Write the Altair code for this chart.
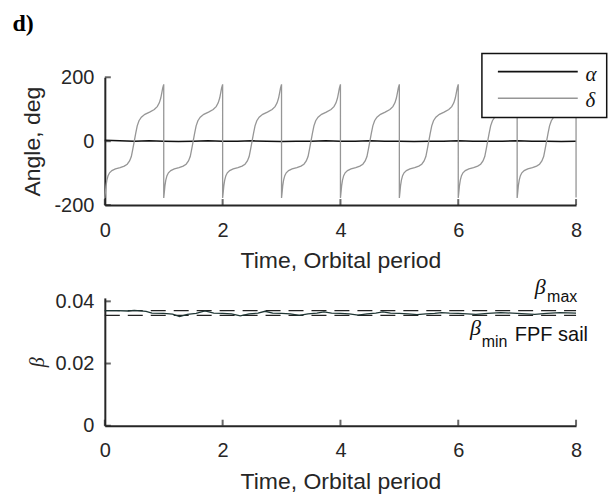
import altair as alt
import pandas as pd

# ---------------- data ----------------
# one orbital period of delta (deg) vs phase of the period
delta_phase = [0.000, 0.010, 0.020, 0.035, 0.055, 0.080, 0.120, 0.180, 0.260, 0.330,
               0.380, 0.420, 0.450, 0.475, 0.500, 0.525, 0.550, 0.580, 0.620, 0.680,
               0.760, 0.840, 0.890, 0.925, 0.950, 0.968, 0.982, 1.000]
delta_deg = [-178, -160, -140, -122, -108, -99, -92, -87, -83, -78,
             -72, -62, -48, -25, 0, 25, 48, 64, 75, 84,
             91, 99, 108, 120, 135, 152, 166, 178]
n_periods = 8
delta_end = -176

alpha_t = [0, 0.25, 0.5, 0.75, 1, 1.25, 1.5, 1.75, 2, 2.25, 2.5, 2.75, 3, 3.25, 3.5, 3.75,
           4, 4.25, 4.5, 4.75, 5, 5.25, 5.5, 5.75, 6, 6.25, 6.5, 6.75, 7, 7.25, 7.5, 7.75, 8]
alpha_deg = [3, 1, 0, 1, 0, -1, 0, 1, 0, 0, 1, 0, -1, 0, 0, 1,
             0, 0, 1, 0, 0, -1, 0, 0, 1, 0, 0, 0, 1, 0, 0, -1, 0]

beta_t = [0.0, 0.2, 0.4, 0.5, 0.6, 0.7, 0.8, 1.0, 1.15, 1.27, 1.4, 1.55, 1.7, 1.85,
          2.0, 2.15, 2.3, 2.45, 2.6, 2.72, 2.85, 3.0, 3.15, 3.3, 3.45, 3.6, 3.72, 3.85,
          4.0, 4.15, 4.3, 4.45, 4.6, 4.72, 4.85, 5.0, 5.15, 5.3, 5.45, 5.6, 5.72, 5.85,
          6.0, 6.3, 6.5, 6.72, 7.0, 7.3, 7.5, 7.72, 8.0]
beta_val = [0.0370, 0.0370, 0.0369, 0.0371, 0.0369, 0.0368, 0.0362, 0.0361, 0.0359, 0.0351,
            0.0358, 0.0361, 0.0369, 0.0362, 0.0361, 0.0360, 0.0353, 0.0360, 0.0362, 0.0368,
            0.0362, 0.0361, 0.0360, 0.0355, 0.0360, 0.0362, 0.0366, 0.0362, 0.0361, 0.0360,
            0.0356, 0.0360, 0.0362, 0.0366, 0.0362, 0.0361, 0.0360, 0.0357, 0.0360, 0.0361,
            0.0364, 0.0362, 0.0361, 0.0358, 0.0361, 0.0364, 0.0361, 0.0358, 0.0361, 0.0364,
            0.0362]
beta_max = 0.0370
beta_min = 0.0355

x_ticks = [0, 2, 4, 6, 8]
angle_ticks = [-200, 0, 200]
beta_ticks = [0, 0.02, 0.04]

# ---------------- tables ----------------
rows = []
i = 0
for k in range(n_periods):
    for p, v in zip(delta_phase, delta_deg):
        rows.append({"t": k + p, "v": v, "o": i})
        i += 1
rows.append({"t": n_periods, "v": delta_end, "o": i})
delta_df = pd.DataFrame(rows)
alpha_df = pd.DataFrame({"t": alpha_t, "v": alpha_deg})
beta_df = pd.DataFrame({"t": beta_t, "v": beta_val, "o": list(range(len(beta_t)))})
lim_df = pd.DataFrame({"v": [beta_max, beta_min]})

# ---------------- style ----------------
SANS = "Liberation Sans"
SERIF = "Liberation Serif"
AX = "#262626"
W, H = 472, 128

xs = alt.Scale(domain=[0, 8], nice=False, zero=False)
ys_top = alt.Scale(domain=[-200, 200], nice=False, zero=False)
ys_bot = alt.Scale(domain=[0, 0.0411], nice=False, zero=False)


def x_axis():
    return alt.Axis(values=x_ticks, title="Time, Orbital period", ticks=False, tickSize=0,
                    labelPadding=15, titlePadding=10, grid=False, labelFlush=False,
                    labelOverlap=False, labelExpr="datum.value")


def y_axis(vals, title, **kw):
    return alt.Axis(values=vals, title=title, ticks=False, tickSize=0, labelPadding=11,
                    grid=False, labelOverlap=False, labelExpr="datum.value", **kw)


def inner_ticks(yscale, ybottom, yvals):
    xt = alt.Chart(pd.DataFrame({"v": x_ticks})).mark_tick(
        orient="vertical", size=6, thickness=2, color=AX, yOffset=-3
    ).encode(x=alt.X("v:Q", scale=xs), y=alt.datum(ybottom, scale=yscale))
    yt = alt.Chart(pd.DataFrame({"v": yvals})).mark_tick(
        orient="horizontal", size=6, thickness=2, color=AX, xOffset=3
    ).encode(y=alt.Y("v:Q", scale=yscale), x=alt.datum(0))
    return xt, yt


# ---------------- top panel ----------------
alpha_line = alt.Chart(alpha_df).mark_line(color="#111111", strokeWidth=1.5).encode(
    x=alt.X("t:Q", scale=xs, axis=x_axis()),
    y=alt.Y("v:Q", scale=ys_top, axis=y_axis(angle_ticks, "Angle, deg", titlePadding=9)),
)
delta_line = alt.Chart(delta_df).mark_line(color="#969696", strokeWidth=1.3).encode(
    x=alt.X("t:Q", scale=xs), y=alt.Y("v:Q", scale=ys_top), order="o:Q"
)
xt1, yt1 = inner_ticks(ys_top, -200, angle_ticks)

leg_box = alt.Chart(pd.DataFrame({"a": [0]})).mark_rect(
    fill="white", stroke="#111111", strokeWidth=1.5
).encode(x=alt.value(377.7), x2=alt.value(502.7), y=alt.value(-23.7), y2=alt.value(40.3))
leg_lines = alt.Chart(pd.DataFrame({"k": ["α", "δ"], "yy": [-5.7, 21.0],
                                    "c": ["#111111", "#969696"]})).mark_rule(strokeWidth=1.6).encode(
    x=alt.value(393.7), x2=alt.value(473.7), y=alt.Y("yy:Q", scale=None),
    color=alt.Color("c:N", scale=None),
)
leg_text = alt.Chart(pd.DataFrame({"k": ["α", "δ"], "yy": [3.3, 30.0]})).mark_text(
    font=SERIF, fontStyle="italic", fontSize=21, align="left", baseline="alphabetic", color="#111111"
).encode(x=alt.value(481.5), y=alt.Y("yy:Q", scale=None), text="k:N")
panel_label = alt.Chart(pd.DataFrame({"s": ["d)"]})).mark_text(
    font=SERIF, fontWeight="bold", fontSize=24, align="left", baseline="alphabetic", color="#000000"
).encode(x=alt.value(-92.5), y=alt.value(-46.5), text="s:N")

top = alt.layer(alpha_line, delta_line, xt1, yt1, leg_box, leg_lines, leg_text, panel_label).properties(
    width=W, height=H
)

# ---------------- bottom panel ----------------
beta_line = alt.Chart(beta_df).mark_line(color="#1f3634", strokeWidth=1.3).encode(
    x=alt.X("t:Q", scale=xs, axis=x_axis()),
    y=alt.Y("v:Q", scale=ys_bot, axis=y_axis(beta_ticks, "β", titlePadding=8, titleFont=SERIF,
                                              titleFontStyle="italic", titleFontSize=20)),
    order="o:Q",
)
lims = alt.Chart(lim_df).mark_rule(color="#222222", strokeWidth=1.3, strokeDash=[15, 8]).encode(
    y=alt.Y("v:Q", scale=ys_bot), x=alt.datum(0, scale=xs), x2=alt.datum(8)
)
xt2, yt2 = inner_ticks(ys_bot, 0, beta_ticks)

ann_df_serif = pd.DataFrame({"t": [7.30, 6.198], "v": [0.04248, 0.02928], "s": ["β", "β"]})
ann_df_sub = pd.DataFrame({"t": [7.508, 6.397], "v": [0.03968, 0.02542], "s": ["max", "min"]})
ann_df_fpf = pd.DataFrame({"t": [6.961], "v": [0.02735], "s": ["FPF sail"]})
ann1 = alt.Chart(ann_df_serif).mark_text(
    font=SERIF, fontStyle="italic", fontSize=22, align="left", baseline="alphabetic", color="#111111"
).encode(x=alt.X("t:Q", scale=xs), y=alt.Y("v:Q", scale=ys_bot), text="s:N")
ann2 = alt.Chart(ann_df_sub).mark_text(
    font=SANS, fontSize=16, align="left", baseline="alphabetic", color="#111111"
).encode(x=alt.X("t:Q", scale=xs), y=alt.Y("v:Q", scale=ys_bot), text="s:N")
ann3 = alt.Chart(ann_df_fpf).mark_text(
    font=SANS, fontSize=20, align="left", baseline="alphabetic", color="#111111"
).encode(x=alt.X("t:Q", scale=xs), y=alt.Y("v:Q", scale=ys_bot), text="s:N")

bottom = alt.layer(lims, beta_line, xt2, yt2, ann1, ann2, ann3).properties(width=W, height=H)

chart = alt.vconcat(top, bottom, spacing=2).properties(
    padding={"left": 12, "top": 11, "right": 2, "bottom": 2}, background="white"
).configure_view(stroke=None).configure_axis(
    domainColor=AX, domainWidth=2, labelFont=SANS, labelFontSize=20, labelColor=AX,
    titleFont=SANS, titleFontSize=23, titleFontWeight="normal", titleColor=AX,
)

chart.save("out.html", embed_options={"renderer": "svg", "actions": False})
